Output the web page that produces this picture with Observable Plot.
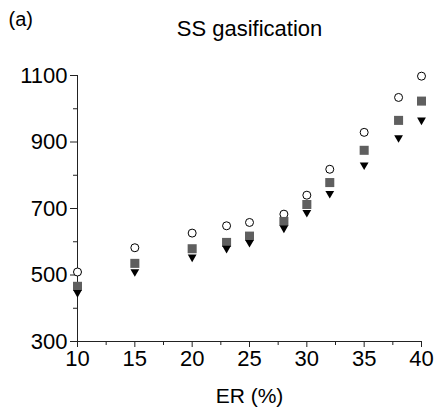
<!DOCTYPE html>
<html><head><meta charset="utf-8">
<script src="https://cdn.jsdelivr.net/npm/d3@7"></script>
<script src="https://cdn.jsdelivr.net/npm/@observablehq/plot@0.6"></script>
<style>body{margin:0;background:#fff}</style>
</head><body><div id="chart"></div>
<script>
const panelLabel = "(a)";
const title = "SS gasification";
const xLabel = "ER (%)";
const er = [10, 15, 20, 23, 25, 28, 30, 32, 35, 38, 40];
const seriesCircle = [509, 582, 626, 648, 658, 683, 740, 818, 929, 1034, 1098];
const seriesSquare = [466, 535, 579, 598, 617, 661, 712, 778, 875, 965, 1023];
const seriesTriangle = [447, 510, 554, 580, 598, 641, 688, 745, 831, 913, 966];
const xTicks = [10, 15, 20, 25, 30, 35, 40];
const xMinor = [12.5, 17.5, 22.5, 27.5, 32.5, 37.5];
const yTicks = [300, 500, 700, 900, 1100];
const yMinor = [400, 600, 800, 1000];

const rows = vals => er.map((x, i) => ({er: x, v: vals[i]}));
const font = "'Liberation Sans', Arial, sans-serif";

const chart = Plot.plot({
  width: 437, height: 414,
  marginLeft: 77, marginRight: 16, marginTop: 75, marginBottom: 73,
  style: {fontFamily: font, background: "#fff", color: "#000"},
  x: {domain: [10, 40]},
  y: {domain: [300, 1100]},
  marks: [
    Plot.axisY({ticks: yTicks, tickSize: 7, tickPadding: 3, fontSize: 22, label: null, tickFormat: d => String(d), stroke: "#222"}),
    Plot.axisY({ticks: yMinor, tickSize: 4, text: null, label: null, stroke: "#222"}),
    Plot.axisX({ticks: xTicks, tickSize: 6, tickPadding: 3, fontSize: 22, label: null, tickFormat: d => String(d), stroke: "#222"}),
    Plot.axisX({ticks: xMinor, tickSize: 4, text: null, label: null, stroke: "#222"}),
    Plot.ruleX([10], {stroke: "#222"}),
    Plot.ruleY([300], {stroke: "#222"}),
    Plot.dot(rows(seriesCircle), {x: "er", y: "v", r: 4, symbol: "circle", stroke: "#000", fill: "#fff", strokeWidth: 1}),
    Plot.dot(rows(seriesSquare), {x: "er", y: "v", r: 5.1, symbol: "square", fill: "#5f5f5f"}),
    Plot.dot(rows(seriesTriangle), {x: "er", y: "v", r: 4.2, symbol: "triangle2", rotate: 180, fill: "#000"}),
    Plot.text([title], {text: d => d, frameAnchor: "top", lineAnchor: "middle", dy: -47, fontSize: 22}),
    Plot.text([panelLabel], {text: d => d, frameAnchor: "top-left", lineAnchor: "middle", textAnchor: "start", dx: -69, dy: -56, fontSize: 20}),
    Plot.text([xLabel], {text: d => d, frameAnchor: "bottom", lineAnchor: "middle", dy: 55, fontSize: 21})
  ]
});
document.getElementById("chart").appendChild(chart);
</script>
</body></html>
